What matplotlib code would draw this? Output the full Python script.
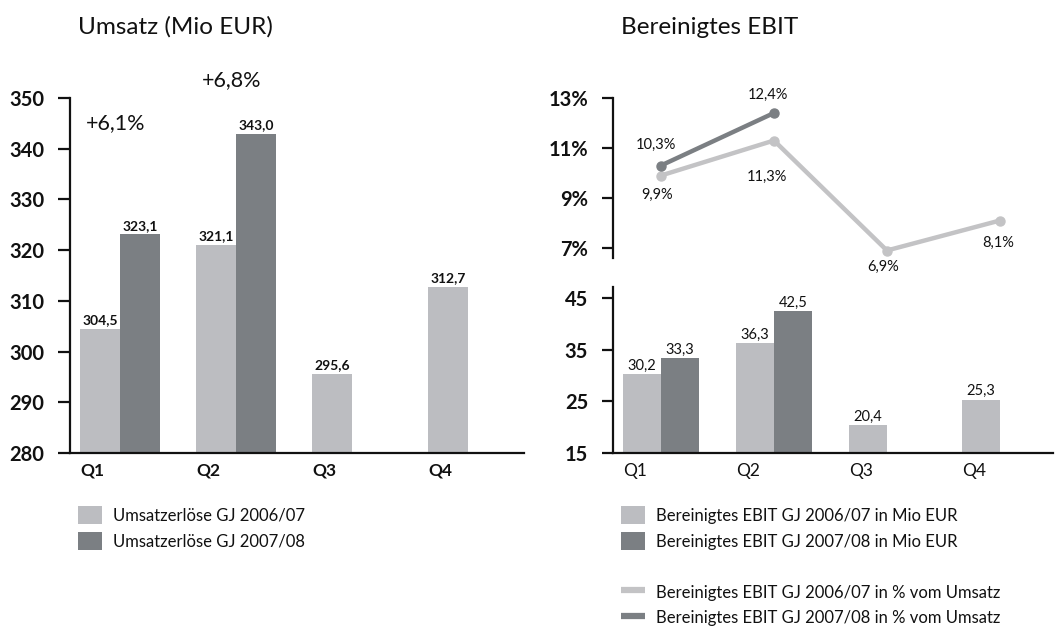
import matplotlib
matplotlib.use("Agg")
import matplotlib.pyplot as plt
from matplotlib.lines import Line2D
import numpy as np

plt.rcParams['font.family'] = ['Lato', 'DejaVu Sans']

quarters = ["Q1", "Q2", "Q3", "Q4"]

umsatz_0607 = [304.5, 321.1, 295.6, 312.7]
umsatz_0708 = [323.1, 343.0]
umsatz_growth = ["+6,1%", "+6,8%"]
umsatz_growth_y = [345.1, 353.5]

ebit_0607 = [30.2, 36.3, 20.4, 25.3]
ebit_0708 = [33.3, 42.5]
ebit_pct_0607 = [9.9, 11.3, 6.9, 8.1]
ebit_pct_0708 = [10.3, 12.4]

umsatz_ticks = [280, 290, 300, 310, 320, 330, 340, 350]
ebit_ticks = [15, 25, 35, 45]
pct_ticks = [7, 9, 11, 13]

LIGHT = "#bcbdc1"
DARK = "#7b7f83"
LINE_LIGHT = "#c3c3c5"
LINE_DARK = "#7b7f83"
INK = "#111111"

def fmt(v, dec=1):
    return f"{v:.{dec}f}".replace(".", ",")

W, H = 1055, 632
fig = plt.figure(figsize=(W / 100, H / 100), dpi=100)

def style_axes(ax, ticks, labels, tick_len, pad, fs):
    for s in ["top", "right"]:
        ax.spines[s].set_visible(False)
    ax.spines["left"].set_linewidth(1.6)
    ax.spines["bottom"].set_linewidth(1.6)
    ax.spines["left"].set_color(INK)
    ax.spines["bottom"].set_color(INK)
    ax.set_yticks(ticks)
    ax.set_yticklabels(labels, fontsize=fs, fontweight="bold", color=INK)
    ax.tick_params(axis="y", length=tick_len, width=1.6, pad=pad, color=INK)
    ax.patch.set_alpha(0)

# ---------------- Left chart: Umsatz ----------------
axL = fig.add_axes([70 / W, 1 - 453 / H, 454 / W, 355 / H])
x = np.arange(len(quarters))
wL = 0.345
b1 = axL.bar(x, umsatz_0607, width=-wL, align="edge", color=LIGHT, label="Umsatzerlöse GJ 2006/07")
b2 = axL.bar(x[:len(umsatz_0708)], umsatz_0708, width=wL, align="edge", color=DARK, label="Umsatzerlöse GJ 2007/08")
axL.set_ylim(280, 350)
axL.set_xlim(-0.431, 3.48)
style_axes(axL, umsatz_ticks, [str(t) for t in umsatz_ticks], 8.5, 10, 14.5)
axL.set_xticks(x - wL)
axL.set_xticklabels(quarters, fontsize=12.5, fontweight="bold", ha="left", color=INK)
axL.tick_params(axis="x", length=0, pad=7)
for xi, v in zip(x, umsatz_0607):
    axL.annotate(fmt(v), (xi - wL / 2, v), xytext=(0, 2), textcoords="offset points",
                 ha="center", va="bottom", fontsize=10, fontweight="bold", color=INK)
for xi, v in zip(x, umsatz_0708):
    axL.annotate(fmt(v), (xi + wL / 2, v), xytext=(0, 2), textcoords="offset points",
                 ha="center", va="bottom", fontsize=10, fontweight="bold", color=INK)
for xi, txt, yy in zip(x, umsatz_growth, umsatz_growth_y):
    axL.text(xi - 0.04, yy, txt, ha="center", va="center", fontsize=15.5, color=INK, clip_on=False)
axL.legend(loc="upper left", bbox_to_anchor=(78 / W, 1 - 506 / H), bbox_transform=fig.transFigure,
           frameon=False, fontsize=12, handlelength=1.45, handleheight=1.3, labelspacing=0.48,
           handletextpad=0.65, borderpad=0, borderaxespad=0, labelcolor=INK)

# ---------------- Right chart bottom: EBIT bars ----------------
axB = fig.add_axes([613 / W, 1 - 453 / H, 440 / W, 166 / H])
wR = 0.336
r1 = axB.bar(x, ebit_0607, width=-wR, align="edge", color=LIGHT, label="Bereinigtes EBIT GJ 2006/07 in Mio EUR")
r2 = axB.bar(x[:len(ebit_0708)], ebit_0708, width=wR, align="edge", color=DARK, label="Bereinigtes EBIT GJ 2007/08 in Mio EUR")
axB.set_ylim(15, 47.1)
xlimR = (-0.425, 3.47)
axB.set_xlim(*xlimR)
style_axes(axB, ebit_ticks, [str(t) for t in ebit_ticks], 8, 10, 14.5)
axB.set_xticks(x - wR)
axB.set_xticklabels(quarters, fontsize=12.5, ha="left", color=INK)
axB.tick_params(axis="x", length=0, pad=7)
for xi, v in zip(x, ebit_0607):
    axB.annotate(fmt(v), (xi - wR / 2, v), xytext=(0, 1), textcoords="offset points",
                 ha="center", va="bottom", fontsize=10.5, color=INK)
for xi, v in zip(x, ebit_0708):
    axB.annotate(fmt(v), (xi + wR / 2, v), xytext=(0, 1), textcoords="offset points",
                 ha="center", va="bottom", fontsize=10.5, color=INK)

# ---------------- Right chart top: EBIT % ----------------
axT = fig.add_axes([613 / W, 1 - 258 / H, 440 / W, 160 / H])
axT.set_ylim(6.6, 13)
axT.set_xlim(*xlimR)
l1, = axT.plot(x, ebit_pct_0607, color=LINE_LIGHT, lw=3.2, marker="o", ms=6.5, solid_capstyle="round",
               label="Bereinigtes EBIT GJ 2006/07 in % vom Umsatz", clip_on=False)
l2, = axT.plot(x[:len(ebit_pct_0708)], ebit_pct_0708, color=LINE_DARK, lw=3.2, marker="o", ms=6.5,
               label="Bereinigtes EBIT GJ 2007/08 in % vom Umsatz", clip_on=False)
style_axes(axT, pct_ticks, [f"{t}%" for t in pct_ticks], 8, 10, 14.5)
axT.spines["bottom"].set_visible(False)
axT.set_xticks([])
offs_0607 = [(-3, -14), (-5, -26), (-3, -12), (-1, -16)]
offs_0708 = [(-4, 15), (-4, 13)]
for xi, v, (dx, dy) in zip(x, ebit_pct_0607, offs_0607):
    axT.annotate(fmt(v) + "%", (xi, v), xytext=(dx, dy), textcoords="offset points",
                 ha="center", va="center", fontsize=10.5, color=INK)
for xi, v, (dx, dy) in zip(x, ebit_pct_0708, offs_0708):
    axT.annotate(fmt(v) + "%", (xi, v), xytext=(dx, dy), textcoords="offset points",
                 ha="center", va="center", fontsize=10.5, color=INK)

axB.legend(handles=[r1, r2], loc="upper left", bbox_to_anchor=(621 / W, 1 - 506 / H),
           bbox_transform=fig.transFigure, frameon=False, fontsize=12, handlelength=1.45,
           handleheight=1.3, labelspacing=0.48, handletextpad=0.65, borderpad=0, borderaxespad=0,
           labelcolor=INK)
h3 = Line2D([], [], color=LINE_LIGHT, lw=4.5, solid_capstyle="butt")
h4 = Line2D([], [], color=LINE_DARK, lw=4.5, solid_capstyle="butt")
axT.legend(handles=[h3, h4], labels=[l1.get_label(), l2.get_label()], loc="upper left",
           bbox_to_anchor=(621 / W, 1 - 583 / H), bbox_transform=fig.transFigure, frameon=False,
           fontsize=12, handlelength=1.45, handleheight=1.3, labelspacing=0.42, handletextpad=0.65,
           borderpad=0, borderaxespad=0, labelcolor=INK)

# Titles
fig.text(78 / W, 1 - 34 / H, "Umsatz (Mio EUR)", fontsize=17.5, color=INK, ha="left", va="baseline")
fig.text(621 / W, 1 - 34 / H, "Bereinigtes EBIT", fontsize=17.5, color=INK, ha="left", va="baseline")

fig.savefig("out.png", dpi=100)
